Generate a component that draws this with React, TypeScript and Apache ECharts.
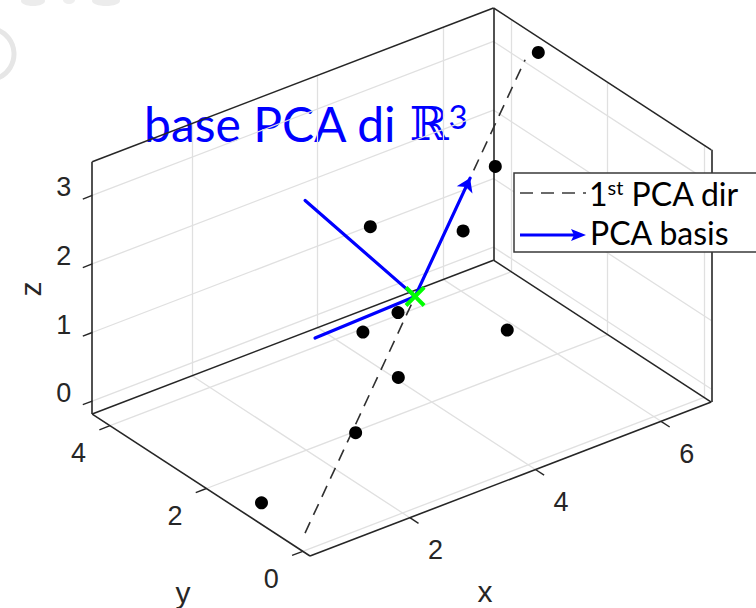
import React, { useEffect, useRef } from "react";
import * as echarts from "echarts";

// Sample points in R^3 (x, y, z)
const pointX = [6.67, 5.54, 3.55, 4.92, 3.17, 2.35, 5.04, 2.63, 1.72, 0.52];
const pointY = [3.27, 2.69, 2.69, 2.55, 1.62, 1.28, 1.79, 0.91, 0.61, 1.0];
const pointZ = [3.39, 2.39, 2.21, 1.73, 1.58, 1.74, 0.59, 1.15, 0.8, 0.02];

// Principal directions (unit vectors), first one = direction of largest variance
const pcaBasis: [number, number, number][] = [
  [0.801, 0.473, 0.365],
  [-0.57, 0.398, 0.718],
  [-0.197, 0.781, -0.592],
];
const basisHasHead = [true, false, false];
const basisLength = 2;
const firstDirHalfLength = 4;

// Axis limits and ticks
const xLim = [0.41, 6.8];
const yLim = [-0.15, 4.37];
const zLim = [-0.19, 3.49];
const xTicks = [2, 4, 6];
const yTicks = [0, 2, 4];
const zTicks = [0, 1, 2, 3];

// View (azimuth / elevation) and screen placement
const W = 756;
const H = 608;
const DEG = Math.PI / 180;
const AZ = -37.5 * DEG;
const EL = 30 * DEG;
const PX_PER_UNIT = 79.15;
const CORNER_PX = [310, 556]; // where (xmin, ymin, zmin) lands

type V3 = [number, number, number];
const RIGHT: V3 = [Math.cos(AZ), Math.sin(AZ), 0];
const UP: V3 = [-Math.sin(EL) * Math.sin(AZ), Math.sin(EL) * Math.cos(AZ), Math.cos(EL)];
const dot = (a: V3, b: V3) => a[0] * b[0] + a[1] * b[1] + a[2] * b[2];
const proj = (p: V3): [number, number] => [dot(RIGHT, p), dot(UP, p)];
const add = (a: V3, b: V3, k = 1): V3 => [a[0] + k * b[0], a[1] + k * b[1], a[2] + k * b[2]];

const AXIS_COLOR = "#262626";
const GRID_COLOR = "#e0e0e0";
const TEXT_COLOR = "#262626";
const TICK_FONT = "Liberation Sans";

function buildOption() {
  const [x0, x1] = xLim;
  const [y0, y1] = yLim;
  const [z0, z1] = zLim;

  const c0 = proj([x0, y0, z0]);
  const uMin = c0[0] - CORNER_PX[0] / PX_PER_UNIT;
  const uMax = uMin + W / PX_PER_UNIT;
  const vMax = c0[1] + CORNER_PX[1] / PX_PER_UNIT;
  const vMin = vMax - H / PX_PER_UNIT;

  const seg = (a: V3, b: V3) => ({ coords: [proj(a), proj(b)] });

  // back-plane grid lines
  const gridSegs: any[] = [];
  xTicks.forEach((x) => {
    gridSegs.push(seg([x, y1, z0], [x, y1, z1]));
    gridSegs.push(seg([x, y0, z0], [x, y1, z0]));
  });
  yTicks.forEach((y) => {
    gridSegs.push(seg([x1, y, z0], [x1, y, z1]));
    gridSegs.push(seg([x0, y, z0], [x1, y, z0]));
  });
  zTicks.forEach((z) => {
    gridSegs.push(seg([x0, y1, z], [x1, y1, z]));
    gridSegs.push(seg([x1, y0, z], [x1, y1, z]));
  });

  // box edges of the back planes
  const boxSegs = [
    seg([x0, y1, z0], [x0, y1, z1]),
    seg([x0, y0, z0], [x0, y1, z0]),
    seg([x0, y0, z0], [x1, y0, z0]),
    seg([x1, y0, z0], [x1, y0, z1]),
    seg([x1, y0, z1], [x1, y1, z1]),
    seg([x0, y1, z1], [x1, y1, z1]),
    seg([x1, y1, z0], [x1, y1, z1]),
    seg([x0, y1, z0], [x1, y1, z0]),
    seg([x1, y0, z0], [x1, y1, z0]),
  ];

  // tick marks
  const tickSegs: any[] = [];
  zTicks.forEach((z) => tickSegs.push(seg([x0, y1, z], [x0 - 0.15, y1, z])));
  yTicks.forEach((y) => tickSegs.push(seg([x0, y, z0], [x0 - 0.17, y, z0])));
  xTicks.forEach((x) => tickSegs.push(seg([x, y0, z0], [x, y0 - 0.18, z0])));

  const points: V3[] = pointX.map((x, i) => [x, pointY[i], pointZ[i]]);
  const n = points.length;
  const mean: V3 = [
    points.reduce((s, p) => s + p[0], 0) / n,
    points.reduce((s, p) => s + p[1], 0) / n,
    points.reduce((s, p) => s + p[2], 0) / n,
  ];

  const dirSeg = seg(add(mean, pcaBasis[0], -firstDirHalfLength), add(mean, pcaBasis[0], firstDirHalfLength));
  const headArrows = pcaBasis.filter((_, i) => basisHasHead[i]).map((e) => seg(mean, add(mean, e, basisLength)));
  const plainArrows = pcaBasis.filter((_, i) => !basisHasHead[i]).map((e) => seg(mean, add(mean, e, basisLength)));

  const tickLabelSeries = (items: { p: V3; t: number }[], offset: number[]) => ({
    type: "scatter",
    symbolSize: 1,
    itemStyle: { color: "rgba(0,0,0,0)", opacity: 1 },
    silent: true,
    data: items.map((it) => ({ value: proj(it.p), name: String(it.t) })),
    label: {
      show: true,
      position: "inside",
      offset,
      formatter: "{b}",
      fontFamily: TICK_FONT,
      fontSize: 27,
      color: TEXT_COLOR,
      opacity: 1,
    },
  });

  const linesBase = {
    type: "lines",
    coordinateSystem: "cartesian2d",
    silent: true,
  };

  const xMark =
    "path://M2.7,0L10,7.3L17.3,0L20,2.7L12.7,10L20,17.3L17.3,20L10,12.7L2.7,20L0,17.3L7.3,10L0,2.7Z";

  return {
    animation: false,
    backgroundColor: "#ffffff",
    grid: { left: 0, top: 0, width: W, height: H },
    xAxis: { type: "value", min: uMin, max: uMax, show: false },
    yAxis: { type: "value", min: vMin, max: vMax, show: false },
    series: [
      { ...linesBase, data: gridSegs, lineStyle: { color: GRID_COLOR, width: 1.3, opacity: 1 } },
      { ...linesBase, data: boxSegs, lineStyle: { color: AXIS_COLOR, width: 1.6, opacity: 1 } },
      { ...linesBase, data: tickSegs, lineStyle: { color: AXIS_COLOR, width: 1.4, opacity: 1 } },
      tickLabelSeries(zTicks.map((t) => ({ p: [x0, y1, t] as V3, t })), [-28.5, -8]),
      tickLabelSeries(yTicks.map((t) => ({ p: [x0, t, z0] as V3, t })), [-31.5, 27.5]),
      tickLabelSeries(xTicks.map((t) => ({ p: [t, y0, z0] as V3, t })), [25.7, 32.8]),
      {
        ...linesBase,
        data: [dirSeg],
        lineStyle: { color: "#303030", width: 1.6, type: [12, 8], opacity: 1 },
      },
      {
        type: "scatter",
        silent: true,
        symbolSize: 13,
        itemStyle: { color: "#000000", opacity: 1 },
        data: points.map((p) => proj(p)),
      },
      {
        ...linesBase,
        data: plainArrows,
        lineStyle: { color: "#0000ff", width: 3.2, opacity: 1, cap: "round" },
      },
      {
        ...linesBase,
        data: headArrows,
        symbol: ["none", "arrow"],
        symbolSize: 13,
        lineStyle: { color: "#0000ff", width: 3.2, opacity: 1, cap: "round" },
      },
      {
        type: "scatter",
        silent: true,
        symbol: xMark,
        symbolSize: 21,
        itemStyle: { color: "#00ff00", opacity: 1 },
        data: [proj(mean)],
        z: 5,
      },
    ],
    graphic: [
      // faint stray marks in the corner
      {
        type: "arc",
        shape: { cx: -12, cy: 54, r: 26, startAngle: -1.25, endAngle: 1.15 },
        style: { stroke: "#e6e6e6", lineWidth: 5, fill: null },
        silent: true,
      },
      { type: "ellipse", shape: { cx: 33, cy: 1, rx: 12, ry: 5 }, style: { fill: "#ececec" }, silent: true },
      { type: "ellipse", shape: { cx: 69, cy: 0, rx: 6, ry: 4 }, style: { fill: "#efefef" }, silent: true },
      { type: "ellipse", shape: { cx: 106, cy: 1, rx: 14, ry: 5 }, style: { fill: "#ececec" }, silent: true },
      // title
      {
        type: "text",
        x: 144,
        y: 123,
        silent: true,
        style: {
          text: "{m|base PCA di }{r|\u211D}{s|3}",
          fill: "#0000ff",
          align: "left",
          verticalAlign: "middle",
          rich: {
            m: { fontFamily: "Lato", fontSize: 48, fill: "#0000ff", verticalAlign: "bottom" },
            r: { fontFamily: "DejaVu Serif", fontSize: 47, fill: "#0000ff", verticalAlign: "bottom" },
            s: { fontFamily: "Lato", fontSize: 33, fill: "#0000ff", verticalAlign: "top" },
          },
        },
      },
      // axis titles
      {
        type: "text",
        x: 30,
        y: 289,
        rotation: Math.PI / 2,
        silent: true,
        style: { text: "z", fontFamily: TICK_FONT, fontSize: 30, fill: TEXT_COLOR, align: "center", verticalAlign: "middle" },
      },
      {
        type: "text",
        x: 183,
        y: 592,
        silent: true,
        style: { text: "y", fontFamily: TICK_FONT, fontSize: 30, fill: TEXT_COLOR, align: "center", verticalAlign: "middle" },
      },
      {
        type: "text",
        x: 485,
        y: 591,
        silent: true,
        style: { text: "x", fontFamily: TICK_FONT, fontSize: 30, fill: TEXT_COLOR, align: "center", verticalAlign: "middle" },
      },
      // legend
      {
        type: "rect",
        shape: { x: 514, y: 173, width: 260, height: 79 },
        style: { fill: "#ffffff", stroke: "#3a3a3a", lineWidth: 1.5 },
        silent: true,
        z: 10,
      },
      {
        type: "line",
        shape: { x1: 520, y1: 193, x2: 586, y2: 193 },
        style: { stroke: "#3a3a3a", lineWidth: 1.6, lineDash: [13, 8] },
        silent: true,
        z: 11,
      },
      {
        type: "text",
        x: 589,
        y: 193,
        silent: true,
        z: 11,
        style: {
          text: "{m|1}{s|st}{m| PCA dir}",
          align: "left",
          verticalAlign: "middle",
          rich: {
            m: { fontFamily: "Lato", fontSize: 32, fill: "#000000", verticalAlign: "bottom" },
            s: { fontFamily: "Lato", fontSize: 20, fill: "#000000", verticalAlign: "top" },
          },
        },
      },
      {
        type: "line",
        shape: { x1: 520, y1: 235, x2: 574, y2: 235 },
        style: { stroke: "#0000ff", lineWidth: 3.2 },
        silent: true,
        z: 11,
      },
      {
        type: "polygon",
        shape: { points: [[586, 235], [571, 229], [574, 235], [571, 241]] },
        style: { fill: "#0000ff" },
        silent: true,
        z: 11,
      },
      {
        type: "text",
        x: 590,
        y: 232,
        silent: true,
        z: 11,
        style: { text: "PCA basis", fontFamily: "Lato", fontSize: 32, fill: "#000000", align: "left", verticalAlign: "middle" },
      },
    ],
  };
}

export default function App() {
  const ref = useRef<HTMLDivElement>(null);
  useEffect(() => {
    if (!ref.current) return;
    const chart = echarts.init(ref.current, undefined, { renderer: "svg" });
    chart.setOption(buildOption() as any);
    return () => chart.dispose();
  }, []);
  return (
    <div
      ref={ref}
      style={{ position: "fixed", left: 0, top: 0, width: W, height: H, background: "#fff" }}
    />
  );
}
